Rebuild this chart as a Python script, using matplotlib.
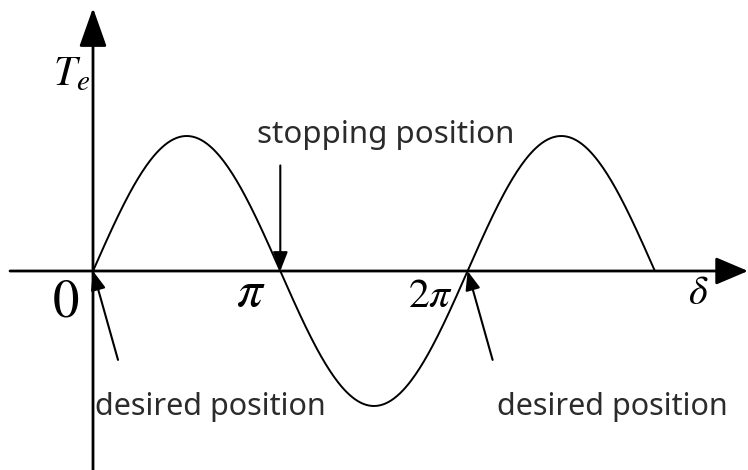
import numpy as np
import matplotlib
matplotlib.use("Agg")
import matplotlib.pyplot as plt

plt.rcParams["mathtext.fontset"] = "stix"
plt.rcParams["font.family"] = ["Noto Sans", "DejaVu Sans"]

# Curve: electromagnetic torque Te vs. rotor angle delta (one and a half periods)
amplitude = 1.0
delta_end = 3 * np.pi
delta = np.linspace(0, delta_end, 400)
torque = amplitude * np.sin(delta)

# Tick labels on the delta axis
tick_pos = [0, np.pi, 2 * np.pi]
tick_text = [r"$0$", r"$\pi$", r"$2\pi$"]

# Annotations: (text, point on the axis)
stop_label = "stopping position"
stop_point = np.pi
desired_label = "desired position"
desired_points = [0, 2 * np.pi]

# Pixel scale of the reference (for the layout only)
px_per_rad = 187.3 / np.pi
px_per_unit = 135.0

fig = plt.figure(figsize=(7.48, 4.70), dpi=100)
ax = fig.add_axes([0, 0, 1, 1])
ax.set_xlim(-93 / px_per_rad, 655 / px_per_rad)
ax.set_ylim(-199 / px_per_unit, 271 / px_per_unit)
ax.axis("off")

x0, x1 = ax.get_xlim()
y0, y1 = ax.get_ylim()

# Axes with arrow heads
ax.annotate("", xy=(x1, 0), xytext=(x0 + 10 / px_per_rad, 0),
            arrowprops=dict(arrowstyle="-|>,head_length=2.0,head_width=0.85",
                            mutation_scale=10, lw=2, color="black",
                            shrinkA=0, shrinkB=0))
ax.annotate("", xy=(0, y1 - 8 / px_per_unit), xytext=(0, y0),
            arrowprops=dict(arrowstyle="-|>,head_length=2.4,head_width=0.85",
                            mutation_scale=10, lw=2, color="black",
                            shrinkA=0, shrinkB=0))

# The torque curve
ax.plot(delta, torque, color="black", lw=1.4, solid_capstyle="butt")

# Axis labels
ax.annotate(r"$T_e$", xy=(0, 0), xytext=(-29, 134), textcoords="offset points",
            fontsize=30, ha="left", va="baseline")
ax.annotate(r"$\delta$", xy=(delta_end, 0), xytext=(31, -24), textcoords="offset points",
            fontsize=29, ha="center", va="baseline")

# Tick labels
tick_sizes = [38, 37, 30]
tick_dx = [-20, -21, -27]
tick_dy = [-33, -25, -26]
for pos, txt, fs, dx, dy in zip(tick_pos, tick_text, tick_sizes, tick_dx, tick_dy):
    ax.annotate(txt, xy=(pos, 0), xytext=(dx, dy), textcoords="offset points",
                fontsize=fs, ha="center", va="baseline")

arrow_kw = dict(arrowstyle="-|>,head_length=1.15,head_width=0.45",
                mutation_scale=10, lw=1.5, color="black", shrinkA=0, shrinkB=0)

# Stopping position
ax.annotate("", xy=(stop_point, 0), xytext=(0, 76), textcoords="offset points",
            arrowprops=arrow_kw)
ax.annotate(stop_label, xy=(stop_point, 0), xytext=(-17, 92), textcoords="offset points",
            fontsize=22.5, color="#2b2b2b", ha="left", va="baseline")

# Desired positions
for p in desired_points:
    ax.annotate("", xy=(p, 0), xytext=(18, -64), textcoords="offset points",
                arrowprops=arrow_kw)
    ax.annotate(desired_label, xy=(p, 0), xytext=(1.5 if p == 0 else 21, -104),
                textcoords="offset points",
                fontsize=22, color="#2b2b2b", ha="left", va="baseline")

fig.savefig("out.png", dpi=100)
